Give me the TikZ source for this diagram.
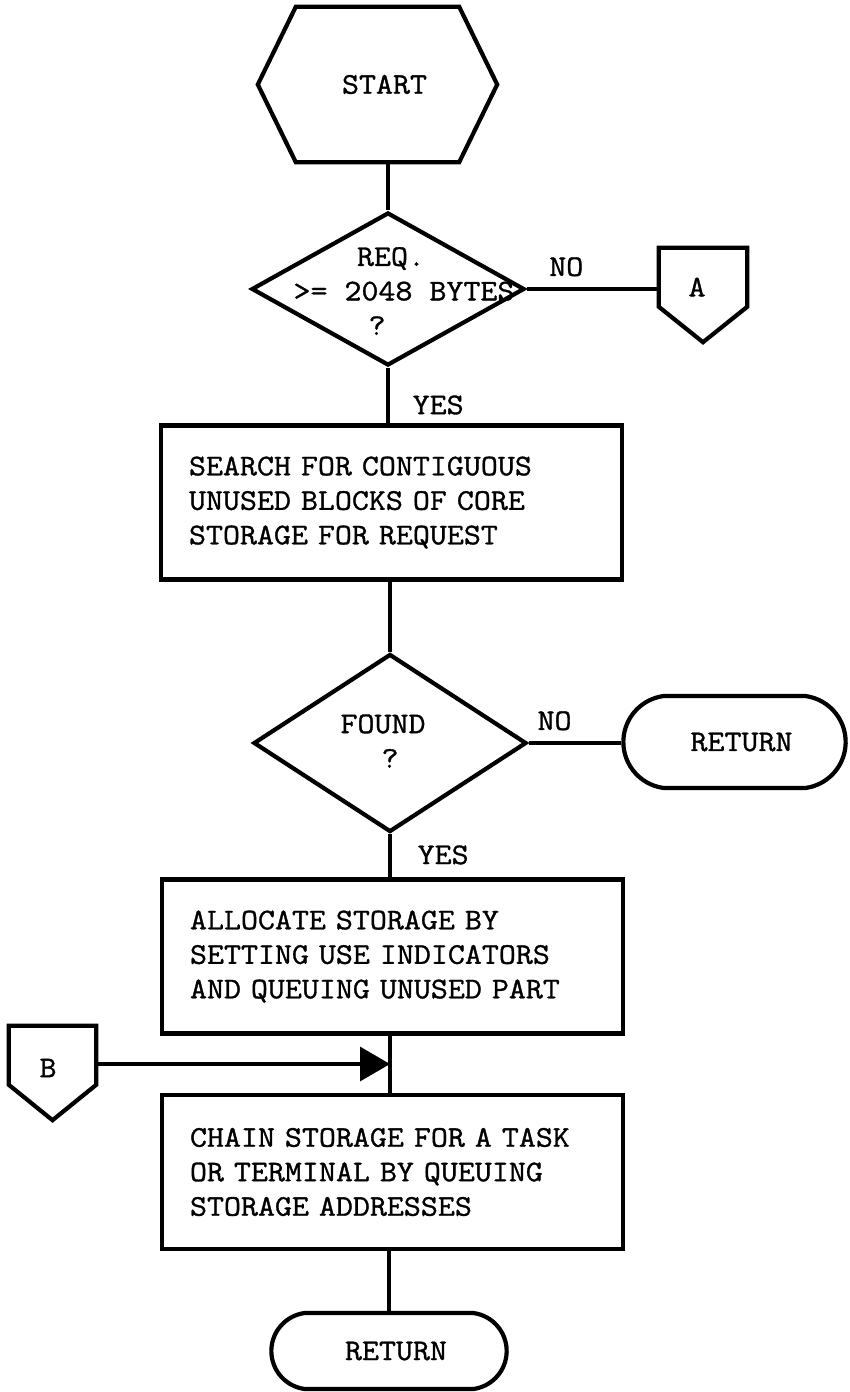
\documentclass[tikz,border=0pt]{standalone}
\usepackage{fontspec}
\setmonofont{Latin Modern Mono}[FakeStretch=1.1, FakeBold=1.1]
\usetikzlibrary{shapes.geometric,shapes.misc,arrows.meta,calc}
\begin{document}
\begin{tikzpicture}[x=1pt,y=-1pt,
  font=\ttfamily\fontsize{30}{34.5}\selectfont,
  shp/.style={line width=4.2pt, line join=miter},
  conn/.style={line width=3.4pt},
  lbl/.style={inner sep=0pt},
  procbox/.style={draw, shp, rectangle, inner xsep=28pt, inner ysep=0pt,
    text width=405pt, align=left, minimum height=154pt},
  decision/.style={draw, shp, diamond, inner sep=0pt},
  terminal/.style={draw, shp, rounded rectangle, rounded rectangle arc length=165},
  frame/.style={inner sep=0pt}
]
\useasboundingbox (0,0) rectangle (850,1392);

% START hexagon
\node[frame, minimum width=239pt, minimum height=155pt] (start) at (377.5,84.5) {\hspace*{14pt}START};
\draw[shp] (start.west) -- ($(start.north west)+(38,0)$) -- ($(start.north east)+(-38,0)$)
  -- (start.east) -- ($(start.south east)+(-38,0)$) -- ($(start.south west)+(38,0)$) -- cycle;

% decision 1
\node[decision, minimum width=273pt, minimum height=153pt] (d1) at (388,289) {};
\node[align=center, inner sep=0pt] (d1t) at (404,291) {REQ.\hspace*{26pt}\\>= 2048 BYTES\\?\hspace*{54pt}};

% off-page connector A
\node[frame, minimum width=88pt, minimum height=94pt] (A) at (703,295) {};
\draw[shp] (A.north west) -- (A.north east) -- ($(A.north east)+(0,59)$) -- (A.south)
  -- ($(A.north west)+(0,59)$) -- cycle;
\node[lbl] (At) at ($(A)+(-6,-8)$) {A};

% box 1
\node[procbox, minimum width=461pt] (b1) at (391.5,502.5)
  {SEARCH FOR CONTIGUOUS\\UNUSED BLOCKS OF CORE\\STORAGE FOR REQUEST};

% decision 2
\node[decision, minimum width=273pt, minimum height=178pt] (d2) at (390,743) {};
\node[align=center, inner sep=0pt] (d2t) at (383,741) {FOUND\\?\hspace*{-14pt}};

% return 1
\node[terminal, minimum width=229pt, minimum height=92pt] (r1) at (734.5,742) {\hspace*{14pt}RETURN};

% box 2
\node[procbox, minimum width=459pt] (b2) at (392.5,956.5)
  {ALLOCATE STORAGE BY\\SETTING USE INDICATORS\\AND QUEUING UNUSED PART};

% off-page connector B
\node[frame, minimum width=87pt, minimum height=94pt] (B) at (52.5,1073) {};
\draw[shp] (B.north west) -- (B.north east) -- ($(B.north east)+(0,59)$) -- (B.south)
  -- ($(B.north west)+(0,59)$) -- cycle;
\node[lbl] (Bt) at ($(B)+(-4.5,-5)$) {B};
\coordinate (mj) at (390,1064);

% box 3
\node[procbox, minimum width=459pt] (b3) at (392.5,1172)
  {CHAIN STORAGE FOR A TASK\\OR TERMINAL BY QUEUING\\STORAGE ADDRESSES};

% return 2
\node[terminal, minimum width=242pt, minimum height=76pt] (r2) at (389,1351) {\hspace*{14pt}RETURN};

% connectors
\draw[conn] (start.south -| d1.north) -- (d1.north);
\draw[conn] (d1.east) -- (d1.east -| A.west) node[lbl, pos=0.3, above=11pt] {NO};
\draw[conn] (d1.south) -- (d1.south |- b1.north) node[lbl, pos=0.67, anchor=west, xshift=23pt] {YES};
\draw[conn] (b1.south -| d2.north) -- (d2.north);
\draw[conn] (d2.east) -- (d2.east -| r1.west) node[lbl, pos=0.28, above=11pt] {NO};
\draw[conn] (d2.south) -- (d2.south |- b2.north) node[lbl, pos=0.48, anchor=west, xshift=26pt] {YES};
\draw[conn] (b2.south -| mj) -- (b3.north -| mj);
\draw[conn, -{Triangle[length=30pt,width=34pt]}] (mj -| B.east) -- (mj);
\draw[conn] (b3.south -| r2.north) -- (r2.north);
\end{tikzpicture}
\end{document}
